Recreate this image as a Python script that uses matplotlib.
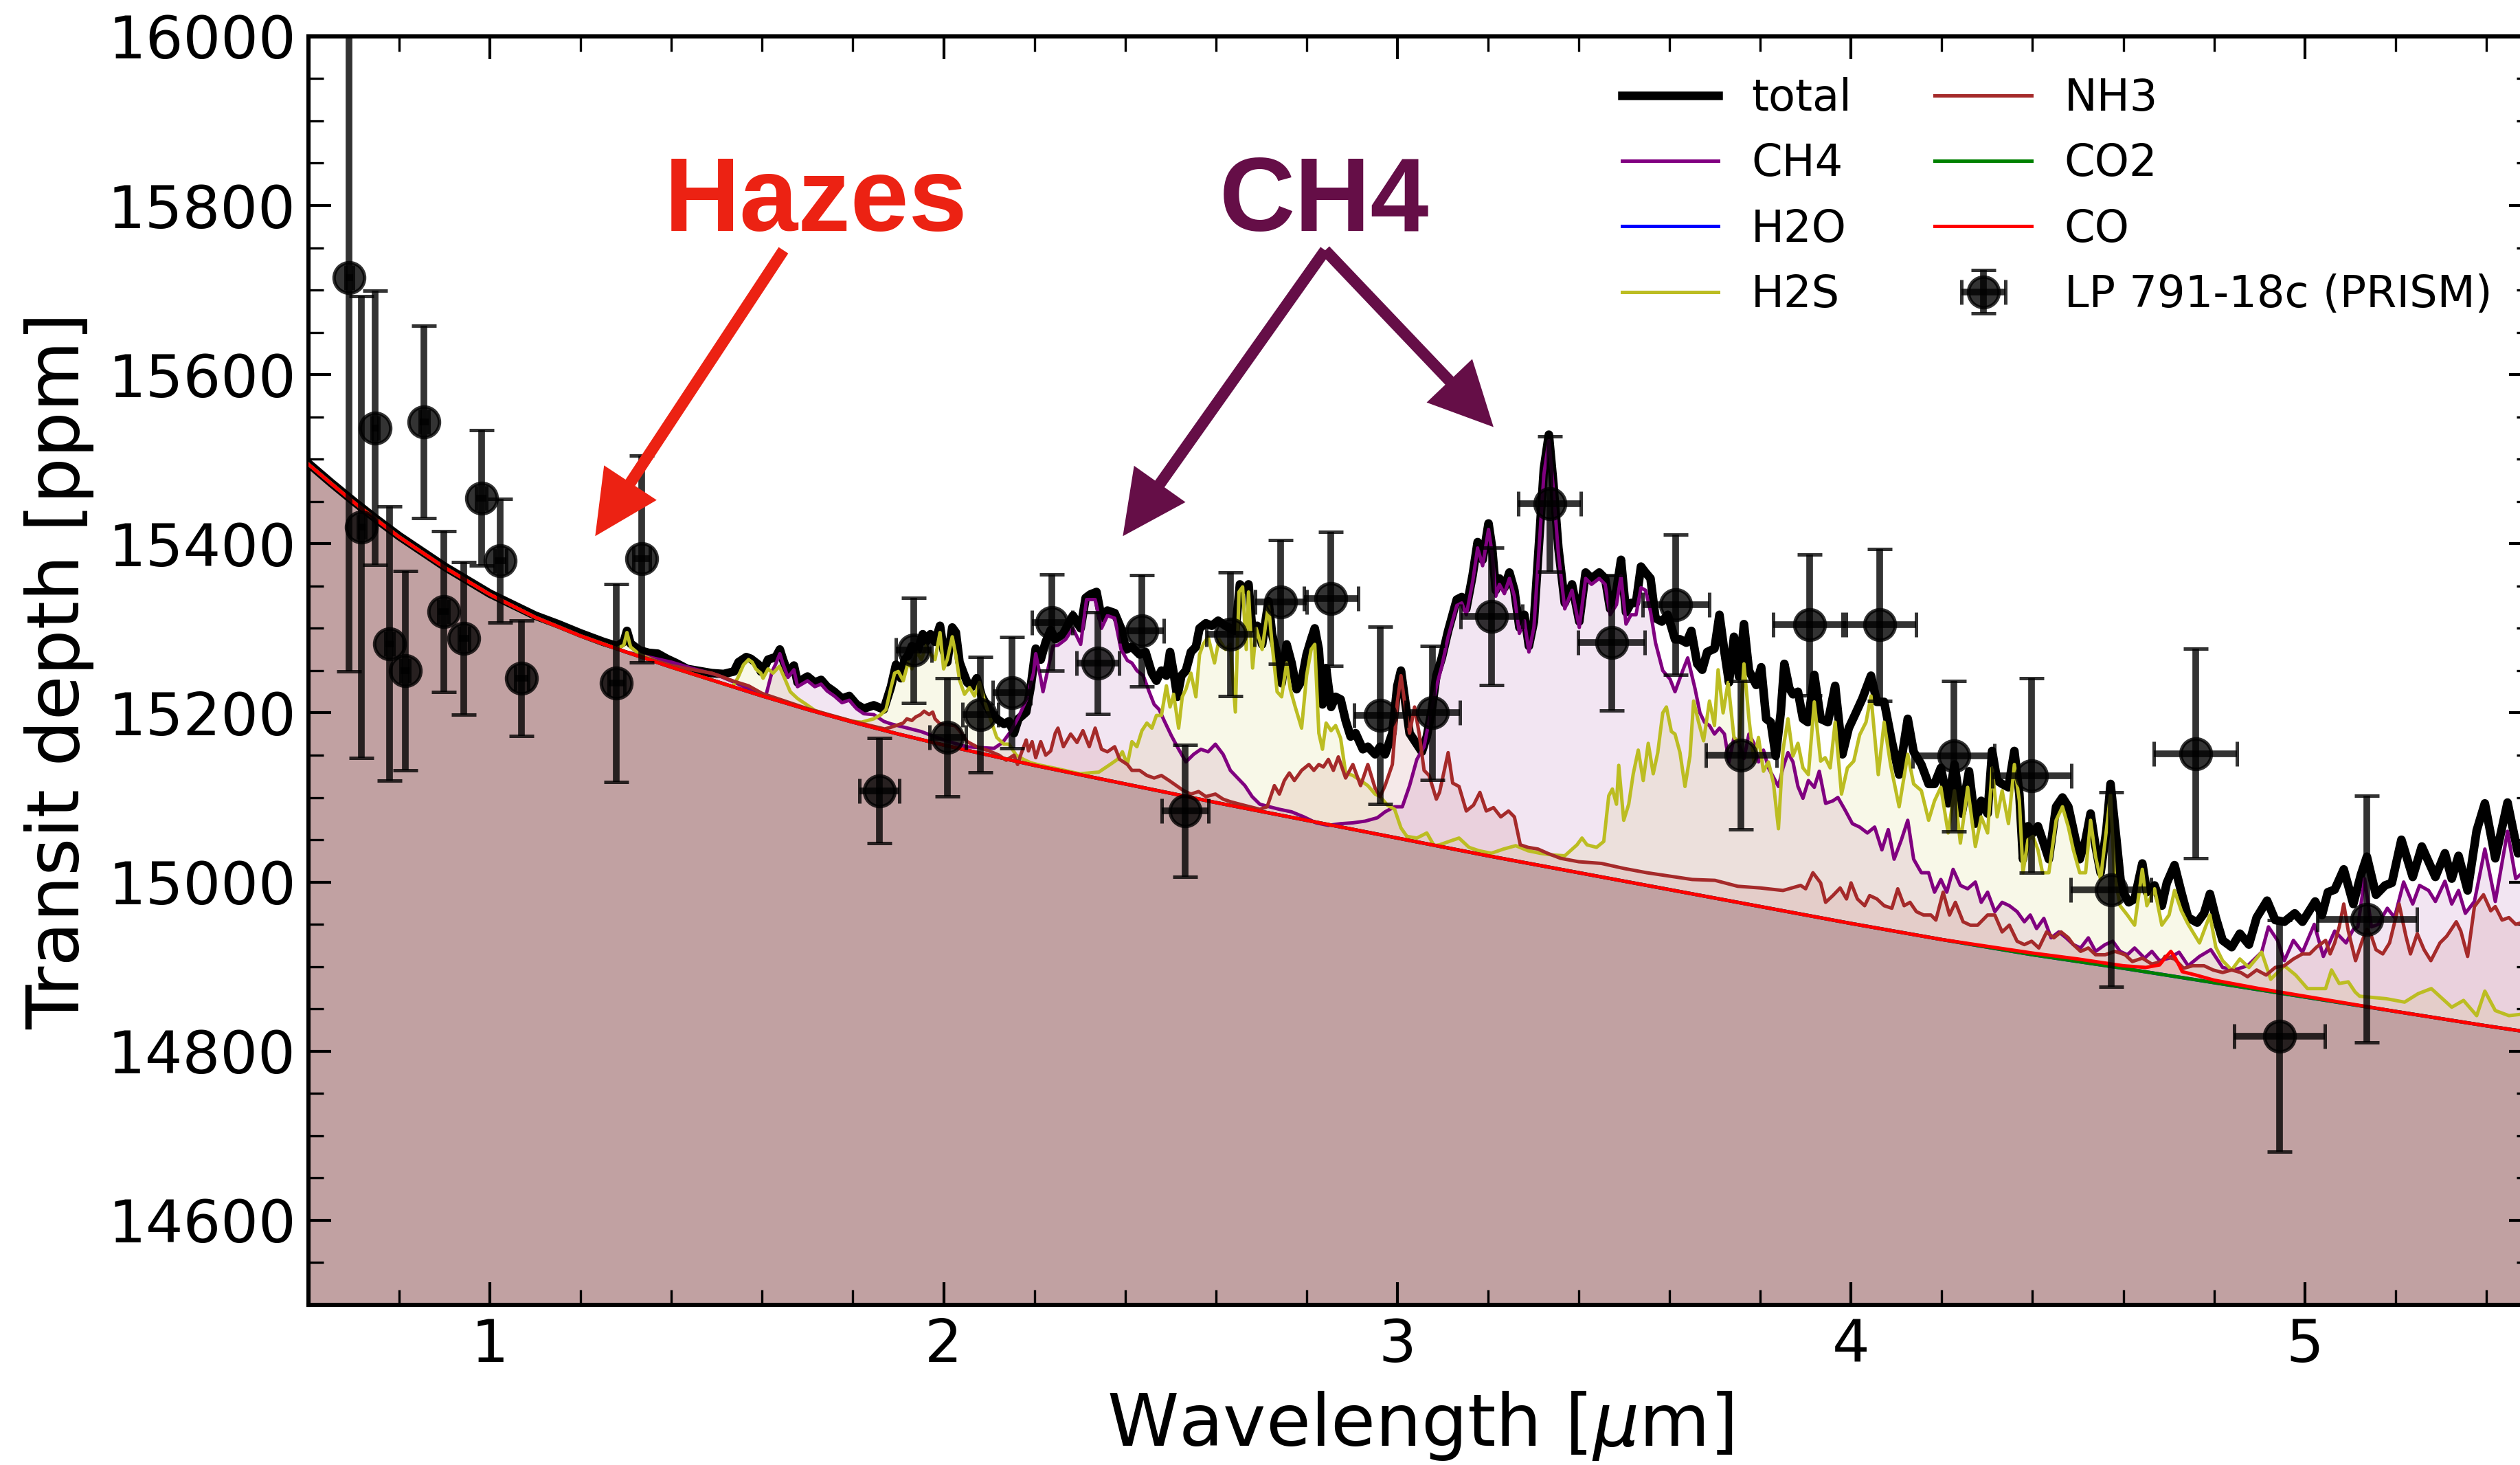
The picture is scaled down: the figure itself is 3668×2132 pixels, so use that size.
import numpy as np
import matplotlib
matplotlib.use('Agg')
import matplotlib.pyplot as plt
from matplotlib.ticker import MultipleLocator

# haze continuum (also what H2O and CO2 look like on this scale)
haze_wl = [0.60, 0.65, 0.70, 0.75, 0.80, 0.90, 1.00, 1.10, 1.20, 1.30, 1.40, 1.50, 1.60, 1.70,
           1.80, 1.90, 2.00, 2.20, 2.40, 2.60, 2.80, 3.00, 3.20, 3.40, 3.60, 3.80, 4.00, 4.20,
           4.40, 4.60, 4.80, 5.00, 5.20, 5.40, 5.50]
haze_ppm = [15494, 15471, 15449, 15428, 15408, 15372, 15340, 15313, 15291, 15272, 15254, 15237,
            15220, 15204, 15189, 15175, 15162, 15138, 15116, 15094, 15073, 15052, 15031, 15011,
            14991, 14971, 14951, 14932, 14914, 14898, 14881, 14864, 14847, 14830, 14822]

h2o_wl, h2o_ppm = list(haze_wl), list(haze_ppm)
co2_wl, co2_ppm = list(haze_wl), list(haze_ppm)

co_wl = [0.60, 0.65, 0.70, 0.75, 0.80, 0.90, 1.00, 1.10, 1.20, 1.30, 1.40, 1.50, 1.60, 1.70,
         1.80, 1.90, 2.00, 2.20, 2.40, 2.60, 2.80, 3.00, 3.20, 3.40, 3.60, 3.80, 4.00, 4.20,
         4.40, 4.50, 4.60, 4.65, 4.68, 4.695, 4.705, 4.715, 4.73, 4.76, 4.80, 4.85, 4.90, 5.00,
         5.20, 5.40, 5.50]
co_ppm = [15494, 15471, 15449, 15428, 15408, 15372, 15340, 15313, 15291, 15272, 15254, 15237,
          15220, 15204, 15189, 15175, 15162, 15138, 15116, 15094, 15073, 15052, 15031, 15011,
          14991, 14971, 14951, 14932, 14916, 14909, 14901, 14899, 14902, 14912, 14918, 14910,
          14894, 14890, 14884, 14879, 14874, 14865, 14847, 14830, 14822]

total_wl = [0.60, 0.65, 0.70, 0.75, 0.80, 0.90, 1.00, 1.10, 1.15, 1.20, 1.25, 1.28, 1.295, 1.302,
            1.31, 1.33, 1.35, 1.37, 1.39, 1.41, 1.435, 1.467, 1.489, 1.515, 1.538, 1.548, 1.565,
            1.575, 1.592, 1.597, 1.608, 1.613, 1.630, 1.639, 1.646, 1.657, 1.670, 1.678, 1.700,
            1.716, 1.730, 1.743, 1.759, 1.776, 1.792, 1.808, 1.824, 1.846, 1.868, 1.884, 1.895,
            1.906, 1.914, 1.922, 1.930, 1.943, 1.954, 1.962, 1.971, 1.981, 1.992, 2.000, 2.008,
            2.019, 2.027, 2.035, 2.044, 2.052, 2.063, 2.073, 2.084, 2.100, 2.117, 2.133, 2.144,
            2.155, 2.165, 2.182, 2.192, 2.203, 2.214, 2.225, 2.236, 2.246, 2.263, 2.285, 2.302,
            2.313, 2.323, 2.337, 2.348, 2.361, 2.377, 2.391, 2.402, 2.415, 2.432, 2.445, 2.459,
            2.469, 2.480, 2.491, 2.499, 2.507, 2.515, 2.524, 2.534, 2.545, 2.556, 2.564, 2.578,
            2.591, 2.605, 2.621, 2.632, 2.643, 2.653, 2.664, 2.672, 2.680, 2.691, 2.702, 2.716,
            2.724, 2.735, 2.745, 2.756, 2.767, 2.778, 2.789, 2.800, 2.810, 2.818, 2.827, 2.835,
            2.843, 2.854, 2.864, 2.875, 2.886, 2.897, 2.908, 2.924, 2.935, 2.951, 2.962, 2.973,
            2.989, 3.000, 3.008, 3.016, 3.027, 3.043, 3.054, 3.065, 3.076, 3.086, 3.098, 3.112,
            3.131, 3.142, 3.152, 3.166, 3.177, 3.188, 3.201, 3.209, 3.217, 3.225, 3.236, 3.247,
            3.258, 3.269, 3.280, 3.290, 3.301, 3.312, 3.323, 3.334, 3.344, 3.355, 3.369, 3.385,
            3.401, 3.415, 3.428, 3.445, 3.458, 3.469, 3.483, 3.493, 3.504, 3.515, 3.526, 3.537,
            3.547, 3.558, 3.569, 3.583, 3.596, 3.612, 3.623, 3.637, 3.648, 3.661, 3.672, 3.683,
            3.699, 3.710, 3.721, 3.731, 3.742, 3.753, 3.764, 3.775, 3.791, 3.802, 3.813, 3.823,
            3.834, 3.845, 3.853, 3.864, 3.872, 3.883, 3.894, 3.905, 3.919, 3.933, 3.949, 3.965,
            3.981, 3.995, 4.008, 4.025, 4.044, 4.057, 4.073, 4.090, 4.106, 4.125, 4.138, 4.155,
            4.171, 4.184, 4.198, 4.214, 4.228, 4.244, 4.260, 4.274, 4.287, 4.301, 4.311, 4.322,
            4.333, 4.347, 4.360, 4.371, 4.379, 4.390, 4.401, 4.412, 4.422, 4.436, 4.452, 4.466,
            4.479, 4.490, 4.504, 4.517, 4.528, 4.539, 4.550, 4.563, 4.572, 4.585, 4.596, 4.612,
            4.625, 4.642, 4.652, 4.669, 4.685, 4.696, 4.713, 4.728, 4.743, 4.763, 4.778, 4.791,
            4.804, 4.819, 4.839, 4.857, 4.877, 4.894, 4.917, 4.935, 4.955, 4.978, 4.995, 5.023,
            5.038, 5.051, 5.066, 5.086, 5.107, 5.124, 5.137, 5.157, 5.177, 5.192, 5.213, 5.238,
            5.258, 5.288, 5.309, 5.324, 5.339, 5.359, 5.379, 5.397, 5.420, 5.447, 5.470, 5.50]
total_ppm = [15495, 15472, 15450, 15429, 15409, 15373, 15341, 15315, 15305, 15294, 15284, 15279,
             15284, 15297, 15282, 15274, 15271, 15270, 15264, 15259, 15252, 15249, 15247, 15246,
             15249, 15260, 15266, 15264, 15257, 15249, 15257, 15263, 15266, 15275, 15263, 15247,
             15256, 15236, 15243, 15236, 15239, 15231, 15225, 15217, 15220, 15210, 15205, 15209,
             15204, 15231, 15257, 15241, 15263, 15268, 15279, 15274, 15293, 15284, 15293, 15284,
             15303, 15274, 15260, 15301, 15295, 15260, 15247, 15236, 15231, 15241, 15220, 15203,
             15193, 15187, 15190, 15176, 15193, 15201, 15231, 15276, 15263, 15284, 15298, 15287,
             15293, 15315, 15300, 15336, 15340, 15343, 15312, 15321, 15318, 15300, 15275, 15278,
             15269, 15272, 15247, 15238, 15250, 15244, 15272, 15247, 15219, 15244, 15250, 15272,
             15278, 15300, 15306, 15303, 15309, 15303, 15300, 15297, 15352, 15346, 15352, 15300,
             15303, 15281, 15332, 15293, 15269, 15235, 15281, 15259, 15228, 15238, 15269, 15287,
             15300, 15275, 15210, 15253, 15207, 15219, 15216, 15191, 15172, 15176, 15157, 15160,
             15151, 15160, 15151, 15176, 15232, 15250, 15219, 15176, 15163, 15154, 15172, 15204,
             15244, 15265, 15297, 15334, 15337, 15323, 15363, 15402, 15381, 15424, 15395, 15345,
             15359, 15348, 15366, 15345, 15301, 15316, 15279, 15308, 15399, 15489, 15529, 15471,
             15395, 15330, 15352, 15308, 15366, 15359, 15366, 15359, 15323, 15345, 15381, 15319,
             15330, 15330, 15373, 15366, 15359, 15312, 15308, 15316, 15287, 15287, 15283, 15297,
             15258, 15251, 15272, 15276, 15316, 15272, 15236, 15290, 15243, 15305, 15250, 15233,
             15254, 15193, 15189, 15149, 15200, 15258, 15229, 15222, 15225, 15193, 15189, 15245,
             15193, 15189, 15232, 15151, 15182, 15197, 15217, 15244, 15213, 15213, 15166, 15127,
             15193, 15154, 15139, 15116, 15116, 15135, 15093, 15139, 15081, 15131, 15069, 15096,
             15081, 15155, 15120, 15116, 15112, 15155, 15104, 15027, 15066, 15058, 15066, 15050,
             15027, 15089, 15100, 15089, 15062, 15027, 15050, 15081, 15042, 15011, 15062, 15116,
             15050, 14992, 14976, 14980, 15022, 14988, 14996, 14972, 14999, 15020, 14988, 14958,
             14952, 14963, 14986, 14958, 14931, 14923, 14939, 14926, 14958, 14978, 14955, 14953,
             14963, 14953, 14977, 14961, 14988, 14991, 15015, 14974, 15009, 15030, 14985, 14996,
             14999, 15050, 15006, 15042, 15006, 15034, 15004, 15031, 14990, 15061, 15093, 15028,
             15094, 15034, 15040]

ch4_wl = [0.60, 0.70, 0.80, 0.90, 1.00, 1.10, 1.20, 1.30, 1.35, 1.40, 1.45, 1.50, 1.54, 1.58,
          1.608, 1.622, 1.630, 1.639, 1.646, 1.657, 1.670, 1.678, 1.700, 1.716, 1.730, 1.743,
          1.759, 1.776, 1.792, 1.808, 1.824, 1.846, 1.868, 1.884, 1.95, 2.00, 2.05, 2.111, 2.130,
          2.149, 2.165, 2.182, 2.198, 2.203, 2.214, 2.219, 2.230, 2.241, 2.252, 2.269, 2.285,
          2.302, 2.315, 2.334, 2.348, 2.361, 2.377, 2.391, 2.405, 2.415, 2.426, 2.440, 2.453,
          2.464, 2.475, 2.486, 2.502, 2.518, 2.534, 2.551, 2.567, 2.583, 2.599, 2.616, 2.632,
          2.648, 2.664, 2.680, 2.697, 2.718, 2.740, 2.767, 2.794, 2.821, 2.848, 2.875, 2.902,
          2.929, 2.956, 2.973, 2.994, 3.011, 3.027, 3.043, 3.059, 3.070, 3.086, 3.098, 3.112,
          3.131, 3.142, 3.152, 3.166, 3.177, 3.188, 3.201, 3.209, 3.217, 3.225, 3.236, 3.247,
          3.258, 3.269, 3.280, 3.290, 3.301, 3.312, 3.323, 3.334, 3.344, 3.355, 3.369, 3.385,
          3.401, 3.415, 3.428, 3.445, 3.458, 3.469, 3.483, 3.493, 3.504, 3.515, 3.526, 3.537,
          3.547, 3.558, 3.569, 3.585, 3.601, 3.612, 3.629, 3.640, 3.656, 3.667, 3.677, 3.688,
          3.699, 3.710, 3.721, 3.731, 3.742, 3.753, 3.764, 3.775, 3.786, 3.796, 3.807, 3.818,
          3.829, 3.840, 3.850, 3.861, 3.872, 3.883, 3.894, 3.906, 3.919, 3.930, 3.944, 3.960,
          3.971, 3.987, 4.003, 4.019, 4.036, 4.052, 4.068, 4.082, 4.095, 4.111, 4.125, 4.138,
          4.155, 4.171, 4.184, 4.198, 4.211, 4.225, 4.241, 4.257, 4.274, 4.287, 4.301, 4.317,
          4.333, 4.349, 4.366, 4.382, 4.395, 4.409, 4.425, 4.441, 4.458, 4.474, 4.490, 4.506,
          4.523, 4.539, 4.560, 4.577, 4.593, 4.609, 4.625, 4.647, 4.663, 4.680, 4.701, 4.723,
          4.743, 4.768, 4.793, 4.819, 4.844, 4.874, 4.905, 4.920, 4.940, 4.955, 4.975, 4.995,
          5.021, 5.041, 5.066, 5.091, 5.107, 5.117, 5.132, 5.147, 5.162, 5.182, 5.198, 5.218,
          5.238, 5.253, 5.273, 5.288, 5.309, 5.324, 5.339, 5.354, 5.374, 5.397, 5.420, 5.447,
          5.465, 5.50]
ch4_ppm = [15494, 15449, 15408, 15372, 15340, 15313, 15291, 15272, 15266, 15260, 15252, 15245,
           15236, 15226, 15220, 15249, 15258, 15270, 15258, 15242, 15251, 15231, 15238, 15231,
           15234, 15226, 15220, 15212, 15215, 15205, 15199, 15198, 15190, 15187, 15178, 15168,
           15160, 15158, 15165, 15179, 15195, 15215, 15247, 15270, 15241, 15225, 15252, 15279,
           15280, 15287, 15300, 15281, 15334, 15334, 15300, 15315, 15312, 15275, 15262, 15259,
           15250, 15244, 15225, 15210, 15204, 15191, 15173, 15157, 15142, 15151, 15157, 15154,
           15163, 15151, 15132, 15123, 15114, 15101, 15092, 15089, 15086, 15083, 15077, 15070,
           15067, 15069, 15070, 15072, 15076, 15083, 15089, 15089, 15114, 15145, 15160, 15191,
           15231, 15255, 15290, 15327, 15330, 15316, 15355, 15395, 15374, 15417, 15388, 15338,
           15352, 15341, 15359, 15338, 15294, 15309, 15272, 15301, 15392, 15482, 15522, 15464,
           15388, 15323, 15345, 15301, 15359, 15352, 15359, 15352, 15316, 15328, 15362, 15305,
           15316, 15316, 15348, 15345, 15320, 15283, 15250, 15240, 15225, 15250, 15265, 15229,
           15200, 15189, 15185, 15175, 15182, 15175, 15142, 15171, 15164, 15146, 15175, 15164,
           15142, 15156, 15135, 15124, 15113, 15135, 15153, 15142, 15113, 15099, 15120, 15112,
           15131, 15093, 15096, 15100, 15085, 15069, 15065, 15058, 15065, 15038, 15062, 15027,
           15050, 15073, 15027, 15011, 15011, 14988, 15003, 14988, 15015, 14996, 14992, 15000,
           14976, 14988, 14965, 14976, 14972, 14965, 14953, 14961, 14945, 14957, 14934, 14941,
           14934, 14926, 14922, 14934, 14918, 14926, 14930, 14918, 14914, 14922, 14910, 14918,
           14907, 14910, 14917, 14901, 14912, 14920, 14899, 14896, 14901, 14917, 14947, 14931,
           14907, 14931, 14917, 14950, 14912, 14942, 14928, 14944, 14947, 15004, 14947, 14950,
           14969, 14958, 15000, 14974, 14996, 14990, 14977, 15001, 14974, 14990, 14963, 14977,
           15039, 14977, 15060, 15004, 15020]

h2s_wl = [0.60, 0.70, 0.80, 0.90, 1.00, 1.10, 1.20, 1.28, 1.295, 1.302, 1.31, 1.33, 1.40, 1.50,
          1.535, 1.546, 1.559, 1.570, 1.578, 1.586, 1.597, 1.602, 1.613, 1.624, 1.638, 1.651,
          1.662, 1.678, 1.700, 1.716, 1.75, 1.80, 1.819, 1.846, 1.862, 1.873, 1.884, 1.892,
          1.900, 1.911, 1.922, 1.930, 1.941, 1.951, 1.962, 1.970, 1.981, 1.992, 2.000, 2.008,
          2.019, 2.027, 2.035, 2.046, 2.057, 2.068, 2.079, 2.090, 2.100, 2.117, 2.133, 2.144,
          2.160, 2.176, 2.192, 2.214, 2.25, 2.30, 2.342, 2.367, 2.383, 2.394, 2.405, 2.415,
          2.426, 2.437, 2.448, 2.459, 2.469, 2.480, 2.491, 2.499, 2.507, 2.518, 2.526, 2.534,
          2.545, 2.556, 2.564, 2.572, 2.583, 2.597, 2.607, 2.621, 2.632, 2.643, 2.651, 2.659,
          2.667, 2.672, 2.681, 2.689, 2.702, 2.716, 2.724, 2.735, 2.745, 2.756, 2.764, 2.775,
          2.789, 2.800, 2.810, 2.818, 2.827, 2.835, 2.843, 2.854, 2.864, 2.875, 2.886, 2.902,
          2.919, 2.935, 2.951, 2.962, 2.978, 2.994, 3.008, 3.021, 3.043, 3.065, 3.081, 3.093,
          3.114, 3.136, 3.158, 3.180, 3.207, 3.234, 3.261, 3.288, 3.315, 3.342, 3.369, 3.396,
          3.407, 3.418, 3.439, 3.455, 3.466, 3.474, 3.483, 3.488, 3.499, 3.510, 3.520, 3.531,
          3.542, 3.553, 3.564, 3.574, 3.585, 3.593, 3.604, 3.612, 3.623, 3.634, 3.645, 3.653,
          3.664, 3.675, 3.688, 3.699, 3.707, 3.718, 3.729, 3.742, 3.753, 3.764, 3.775, 3.786,
          3.796, 3.807, 3.818, 3.829, 3.840, 3.850, 3.861, 3.872, 3.883, 3.894, 3.906, 3.919,
          3.933, 3.943, 3.954, 3.965, 3.979, 3.992, 4.006, 4.019, 4.033, 4.044, 4.060, 4.073,
          4.087, 4.106, 4.125, 4.138, 4.155, 4.171, 4.184, 4.198, 4.214, 4.228, 4.241, 4.257,
          4.274, 4.287, 4.301, 4.311, 4.322, 4.333, 4.347, 4.360, 4.371, 4.379, 4.390, 4.401,
          4.412, 4.422, 4.436, 4.452, 4.466, 4.479, 4.490, 4.504, 4.517, 4.528, 4.539, 4.550,
          4.572, 4.580, 4.593, 4.609, 4.625, 4.642, 4.652, 4.669, 4.685, 4.701, 4.713, 4.728,
          4.743, 4.768, 4.791, 4.804, 4.819, 4.839, 4.857, 4.877, 4.905, 4.925, 4.955, 4.980,
          5.006, 5.046, 5.059, 5.076, 5.096, 5.111, 5.121, 5.18, 5.22, 5.25, 5.279, 5.324, 5.35,
          5.379, 5.397, 5.42, 5.45, 5.50]
h2s_ppm = [15494, 15449, 15408, 15372, 15340, 15313, 15291, 15276, 15280, 15295, 15278, 15269,
           15254, 15237, 15231, 15241, 15257, 15263, 15260, 15252, 15247, 15241, 15252, 15247,
           15255, 15239, 15225, 15217, 15209, 15203, 15197, 15190, 15189, 15193, 15198, 15204,
           15230, 15247, 15249, 15238, 15260, 15252, 15272, 15263, 15280, 15271, 15263, 15295,
           15252, 15263, 15290, 15268, 15239, 15222, 15230, 15220, 15236, 15214, 15198, 15171,
           15163, 15163, 15150, 15145, 15141, 15138, 15134, 15128, 15130, 15139, 15145, 15154,
           15139, 15166, 15160, 15179, 15188, 15182, 15197, 15197, 15232, 15207, 15222, 15182,
           15219, 15228, 15247, 15219, 15269, 15281, 15290, 15259, 15287, 15275, 15281, 15201,
           15343, 15349, 15275, 15343, 15253, 15300, 15275, 15328, 15281, 15225, 15219, 15259,
           15228, 15207, 15182, 15244, 15275, 15281, 15176, 15157, 15188, 15179, 15185, 15170,
           15129, 15126, 15120, 15114, 15104, 15101, 15091, 15086, 15064, 15054, 15052, 15058,
           15043, 15044, 15048, 15052, 15041, 15037, 15034, 15039, 15043, 15037, 15034, 15032,
           15031, 15044, 15052, 15044, 15041, 15048, 15102, 15110, 15092, 15138, 15073, 15092,
           15128, 15156, 15120, 15164, 15128, 15153, 15200, 15207, 15178, 15175, 15153, 15113,
           15149, 15214, 15189, 15167, 15214, 15185, 15251, 15200, 15236, 15171, 15164, 15258,
           15193, 15142, 15171, 15131, 15142, 15117, 15063, 15156, 15193, 15149, 15164, 15135,
           15127, 15213, 15143, 15147, 15135, 15189, 15104, 15135, 15143, 15174, 15189, 15220,
           15127, 15189, 15139, 15089, 15151, 15116, 15108, 15073, 15096, 15112, 15058, 15108,
           15046, 15112, 15042, 15077, 15058, 15135, 15077, 15108, 15069, 15139, 15096, 15011,
           15050, 15054, 15038, 15011, 15011, 15073, 15089, 15065, 15038, 15011, 15011, 15073,
           15030, 15003, 15104, 15011, 14972, 14961, 14949, 15015, 14972, 14992, 14949, 14961,
           14990, 14966, 14950, 14928, 14961, 14923, 14907, 14896, 14909, 14899, 14917, 14885,
           14901, 14890, 14874, 14874, 14896, 14880, 14882, 14870, 14865, 14862, 14858, 14868,
           14874, 14852, 14860, 14842, 14871, 14848, 14842, 14845]

nh3_wl = [0.60, 0.70, 0.80, 0.90, 1.00, 1.10, 1.20, 1.30, 1.40, 1.457, 1.489, 1.515, 1.54, 1.57,
          1.60, 1.70, 1.80, 1.87, 1.884, 1.895, 1.911, 1.919, 1.930, 1.938, 1.949, 1.957, 1.968,
          1.976, 1.981, 1.992, 2.008, 2.025, 2.035, 2.052, 2.073, 2.100, 2.122, 2.138, 2.155,
          2.163, 2.171, 2.182, 2.187, 2.195, 2.203, 2.214, 2.225, 2.236, 2.246, 2.252, 2.264,
          2.280, 2.294, 2.307, 2.321, 2.334, 2.348, 2.361, 2.377, 2.388, 2.405, 2.415, 2.432,
          2.448, 2.464, 2.480, 2.497, 2.513, 2.529, 2.545, 2.562, 2.578, 2.599, 2.616, 2.632,
          2.653, 2.675, 2.697, 2.713, 2.729, 2.740, 2.751, 2.762, 2.773, 2.789, 2.805, 2.816,
          2.827, 2.837, 2.848, 2.859, 2.870, 2.886, 2.902, 2.919, 2.935, 2.951, 2.962, 2.973,
          2.989, 3.000, 3.008, 3.016, 3.027, 3.038, 3.048, 3.059, 3.070, 3.086, 3.093, 3.112,
          3.122, 3.136, 3.152, 3.168, 3.182, 3.196, 3.212, 3.228, 3.245, 3.258, 3.271, 3.288,
          3.31, 3.331, 3.36, 3.40, 3.45, 3.50, 3.55, 3.60, 3.65, 3.70, 3.75, 3.80, 3.85, 3.889,
          3.900, 3.916, 3.933, 3.944, 3.960, 3.976, 3.990, 4.000, 4.014, 4.030, 4.041, 4.057,
          4.073, 4.090, 4.103, 4.117, 4.130, 4.144, 4.160, 4.176, 4.187, 4.203, 4.217, 4.230,
          4.247, 4.263, 4.279, 4.301, 4.317, 4.333, 4.349, 4.366, 4.382, 4.398, 4.414, 4.431,
          4.447, 4.463, 4.479, 4.490, 4.506, 4.523, 4.539, 4.560, 4.582, 4.604, 4.620, 4.642,
          4.663, 4.685, 4.692, 4.713, 4.733, 4.753, 4.778, 4.798, 4.819, 4.839, 4.859, 4.874,
          4.894, 4.915, 4.935, 4.955, 4.975, 4.995, 5.011, 5.026, 5.046, 5.056, 5.066, 5.076,
          5.086, 5.096, 5.112, 5.127, 5.137, 5.147, 5.157, 5.172, 5.187, 5.208, 5.223, 5.233,
          5.248, 5.263, 5.278, 5.298, 5.313, 5.334, 5.344, 5.359, 5.374, 5.394, 5.410, 5.420,
          5.435, 5.450, 5.465, 5.50]
nh3_ppm = [15494, 15449, 15408, 15372, 15340, 15313, 15291, 15272, 15256, 15250, 15247, 15242,
           15237, 15232, 15223, 15205, 15190, 15181, 15183, 15185, 15188, 15193, 15191, 15195,
           15198, 15202, 15198, 15201, 15193, 15187, 15186, 15185, 15179, 15166, 15160, 15155,
           15150, 15144, 15150, 15139, 15152, 15168, 15155, 15166, 15147, 15166, 15150, 15155,
           15176, 15182, 15160, 15175, 15165, 15179, 15160, 15182, 15157, 15154, 15160, 15145,
           15139, 15132, 15132, 15126, 15123, 15126, 15120, 15114, 15108, 15104, 15107, 15101,
           15104, 15098, 15095, 15092, 15089, 15086, 15089, 15114, 15104, 15120, 15129, 15120,
           15132, 15139, 15132, 15139, 15136, 15145, 15132, 15148, 15123, 15139, 15114, 15139,
           15111, 15101, 15114, 15139, 15213, 15244, 15213, 15176, 15207, 15176, 15132, 15126,
           15098, 15106, 15153, 15117, 15113, 15084, 15091, 15106, 15084, 15088, 15077, 15084,
           15077, 15044, 15041, 15039, 15034, 15028, 15024, 15022, 15016, 15011, 15007, 15003,
           15002, 14995, 14993, 14990, 14996, 14992, 15011, 14999, 14976, 14984, 14993, 14980,
           14999, 14980, 14972, 14984, 14980, 14972, 14969, 14992, 14972, 14976, 14965, 14961,
           14961, 14955, 14988, 14961, 14976, 14953, 14949, 14949, 14961, 14961, 14941, 14949,
           14930, 14926, 14930, 14922, 14941, 14934, 14941, 14934, 14926, 14918, 14922, 14914,
           14914, 14918, 14914, 14906, 14910, 14903, 14906, 14912, 14909, 14898, 14901, 14901,
           14896, 14893, 14896, 14893, 14888, 14896, 14890, 14899, 14901, 14909, 14915, 14915,
           14923, 14931, 14915, 14928, 14947, 14974, 14942, 14907, 14931, 14944, 14936, 14920,
           14915, 14928, 14974, 14936, 14915, 14939, 14920, 14907, 14928, 14936, 14953, 14942,
           14912, 14971, 14985, 14966, 14971, 14955, 14958, 14950, 14955]

# LP 791-18c NIRSpec PRISM transit depths
prism_wl = [0.690, 0.717, 0.747, 0.779, 0.813, 0.855, 0.898, 0.943, 0.981, 1.023, 1.070, 1.279,
            1.334, 1.858, 1.934, 2.009, 2.081, 2.150, 2.239, 2.340, 2.437, 2.532, 2.632, 2.743,
            2.854, 2.962, 3.078, 3.207, 3.336, 3.472, 3.614, 3.758, 3.909, 4.063, 4.226, 4.398,
            4.573, 4.759, 4.944, 5.137]
prism_ppm = [15715, 15420, 15537, 15282, 15250, 15544, 15320, 15288, 15454, 15380, 15241, 15235,
             15382, 15108, 15274, 15171, 15198, 15224, 15307, 15259, 15297, 15084, 15293, 15331,
             15335, 15197, 15200, 15314, 15447, 15283, 15328, 15150, 15304, 15304, 15149, 15126,
             14991, 15152, 14818, 14956]
prism_err = [466, 273, 162, 162, 118, 114, 95, 90, 80, 73, 68, 117, 122, 62, 62, 70, 68, 66, 57,
             60, 66, 78, 73, 73, 79, 105, 79, 81, 80, 80, 83, 88, 83, 90, 89, 115, 115, 124, 137,
             146]
prism_bin = [0.008, 0.008, 0.008, 0.009, 0.010, 0.010, 0.011, 0.012, 0.012, 0.013, 0.014, 0.017,
             0.018, 0.044, 0.040, 0.040, 0.040, 0.042, 0.045, 0.047, 0.049, 0.051, 0.053, 0.057,
             0.060, 0.058, 0.060, 0.068, 0.069, 0.074, 0.073, 0.078, 0.080, 0.081, 0.090, 0.087,
             0.089, 0.091, 0.100, 0.110]

HAZE_RED = '#EC2213'
CH4_PLUM = '#650E47'


def render_plot(out_file='out.png'):
    fig = plt.figure(figsize=(18.34, 10.66), dpi=200)
    # axes runs a little past the right edge of the canvas
    ax = fig.add_axes([0.1224, 0.1093, 0.8822, 0.8659])

    ax.plot(total_wl, total_ppm, color='k', lw=4.5, label='total', zorder=3)

    species = [
        ('CH4', ch4_wl, ch4_ppm, 'purple'),
        ('H2O', h2o_wl, h2o_ppm, 'blue'),
        ('H2S', h2s_wl, h2s_ppm, '#bcbd22'),
        ('NH3', nh3_wl, nh3_ppm, 'brown'),
        ('CO2', co2_wl, co2_ppm, 'green'),
        ('CO', co_wl, co_ppm, 'red'),
    ]
    for name, wl, ppm, col in species:
        ax.fill_between(wl, ppm, 14000, color=col, alpha=0.1, lw=0, zorder=1)
        ax.plot(wl, ppm, color=col, lw=1.8, label=name, zorder=4)

    ax.errorbar(prism_wl, prism_ppm, yerr=prism_err, xerr=prism_bin, fmt='o', color='k',
                ms=16, mew=1.8, elinewidth=3.5, capsize=6.5, capthick=3, alpha=0.8,
                zorder=10, label='LP 791-18c (PRISM)')

    # callouts
    ax.text(1.718, 15770, 'Hazes', color=HAZE_RED, fontsize=55, fontweight='bold',
            family=['Liberation Sans', 'DejaVu Sans'], ha='center', va='baseline', zorder=12)
    ax.text(2.839, 15770, 'CH4', color=CH4_PLUM, fontsize=55, fontweight='bold',
            family=['Liberation Sans', 'DejaVu Sans'], ha='center', va='baseline', zorder=12)
    arrow = 'simple,head_length=3.35,head_width=3.3,tail_width=0.6'
    for tail, tip, col in [((1.647, 15747), (1.232, 15409), HAZE_RED),
                           ((2.841, 15747), (2.395, 15409), CH4_PLUM),
                           ((2.841, 15747), (3.212, 15538), CH4_PLUM)]:
        ax.annotate('', xy=tip, xytext=tail, zorder=12,
                    arrowprops=dict(arrowstyle=arrow, mutation_scale=10, color=col,
                                    lw=0, shrinkA=0, shrinkB=0))

    ax.set_xlim(0.6, 5.5)
    ax.set_ylim(14500, 16000)
    ax.xaxis.set_major_locator(MultipleLocator(1))
    ax.xaxis.set_minor_locator(MultipleLocator(0.2))
    ax.yaxis.set_major_locator(MultipleLocator(200))
    ax.yaxis.set_minor_locator(MultipleLocator(50))
    ax.tick_params(which='both', direction='in', top=True, right=True, labelsize=31, pad=6.5)
    ax.tick_params(which='major', length=12, width=1.5)
    ax.tick_params(which='minor', length=8, width=1.2)
    for sp in ax.spines.values():
        sp.set_linewidth(2.2)

    ax.set_xlabel(r'Wavelength [$\mu$m]', fontsize=38, labelpad=8)
    ax.set_ylabel('Transit depth [ppm]', fontsize=38, labelpad=7)

    ax.legend(ncol=2, frameon=False, fontsize=23, loc='upper left',
              bbox_to_anchor=(0.573, 0.999), handlelength=2.2, handletextpad=0.75,
              columnspacing=1.9, labelspacing=0.52)

    fig.savefig(out_file, dpi=200)


def main():
    render_plot()


if __name__ == "__main__":
    main()
